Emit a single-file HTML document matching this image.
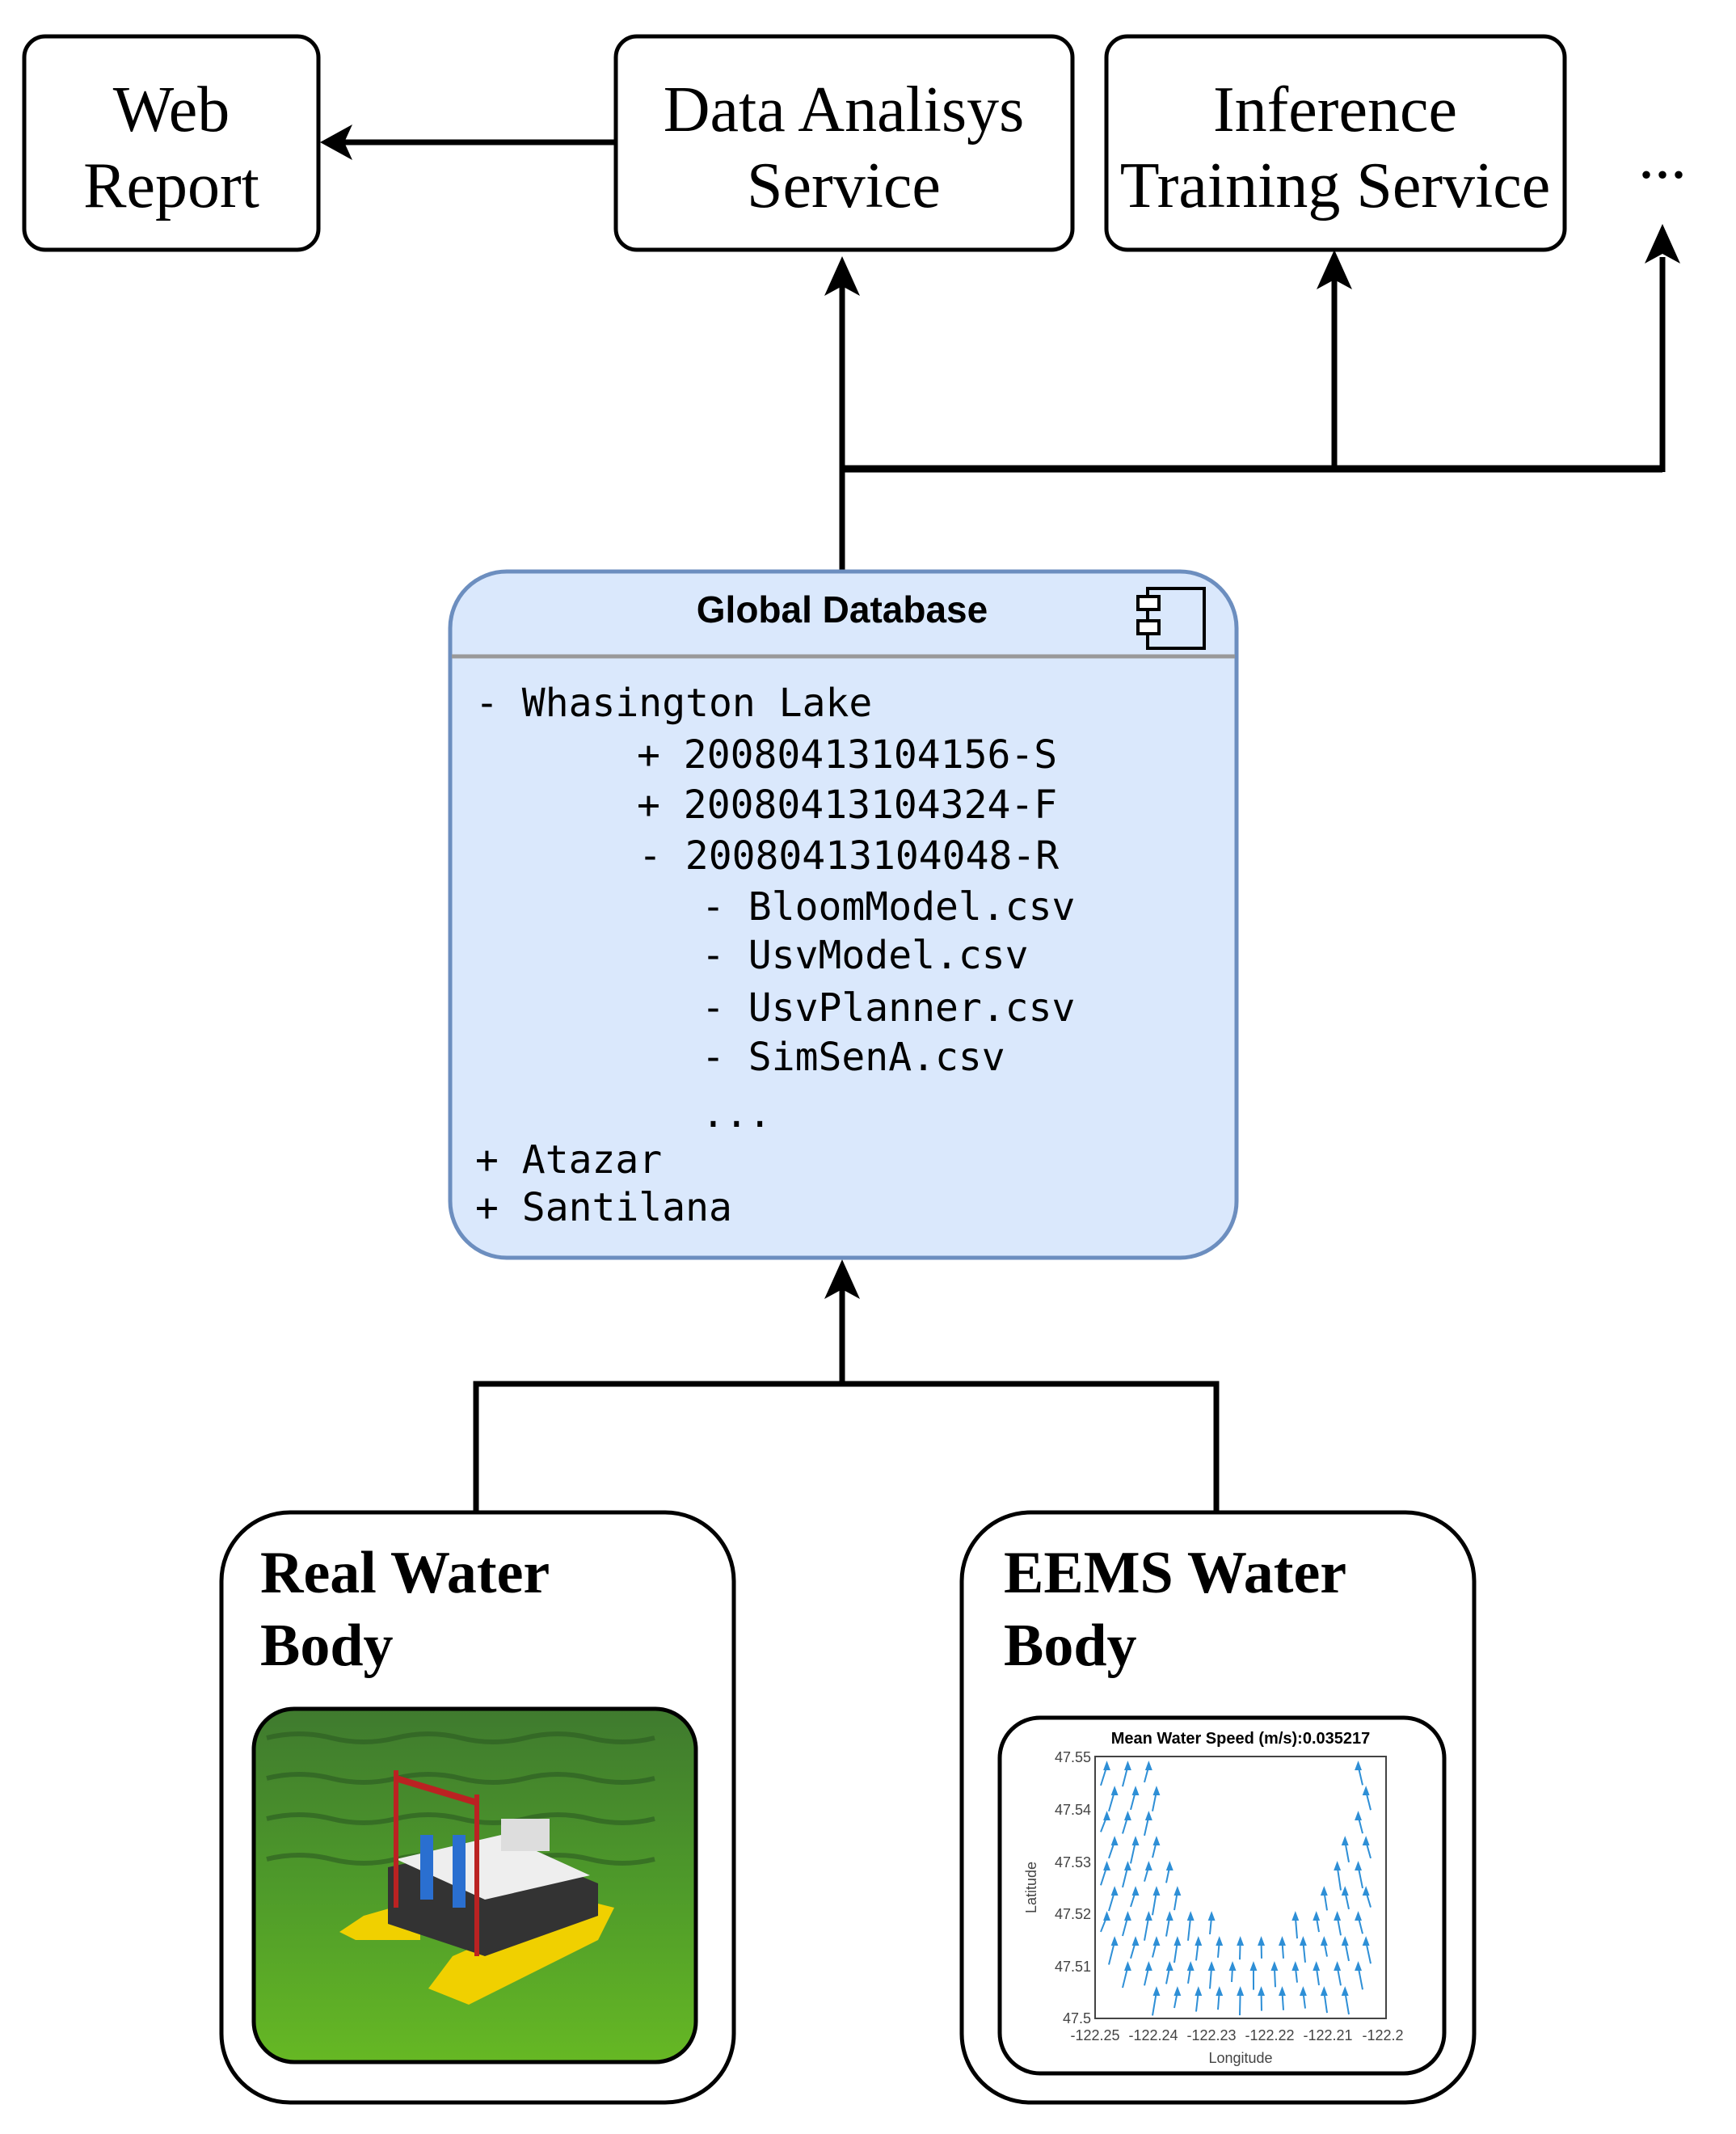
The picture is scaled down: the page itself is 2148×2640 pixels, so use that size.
<!DOCTYPE html>
<html><head><meta charset="utf-8"><style>
html,body{margin:0;padding:0;background:#fff}
svg{display:block}
</style></head><body>
<svg id="s" width="2148" height="2640" viewBox="0 0 2148 2640" xmlns="http://www.w3.org/2000/svg">
<defs>
<linearGradient id="water" x1="0" y1="0" x2="0" y2="1">
<stop offset="0" stop-color="#3f7a2e"/><stop offset="0.5" stop-color="#4e9a2a"/><stop offset="1" stop-color="#66b824"/>
</linearGradient>
<clipPath id="pc"><rect x="314" y="2114" width="547" height="437" rx="50"/></clipPath>
</defs>
<g fill="none" stroke="#000" stroke-width="5">
<rect x="30" y="45" width="364" height="264" rx="26"/>
<rect x="762" y="45" width="565" height="264" rx="26"/>
<rect x="1369" y="45" width="567" height="264" rx="26"/>
</g>
<g font-family="Liberation Serif, serif" font-size="80" text-anchor="middle" fill="#000">
<text x="212" y="162">Web</text><text x="212" y="256">Report</text>
<text x="1044" y="162">Data Analisys</text><text x="1044" y="256">Service</text>
<text x="1652" y="162">Inference</text><text x="1652" y="256">Training Service</text>
<text x="2057" y="220">...</text>
</g>
<g stroke="#000" stroke-width="7" fill="none">
<line x1="762" y1="176" x2="420" y2="176"/>
<line x1="1042" y1="705" x2="1042" y2="350"/>
<line x1="1042" y1="580" x2="2057" y2="580" stroke-width="9"/>
<line x1="1651" y1="580" x2="1651" y2="345"/>
<line x1="2057" y1="584" x2="2057" y2="318"/>
<line x1="1042" y1="1712" x2="1042" y2="1595"/>
<polyline points="589,1871 589,1712 1505,1712 1505,1871"/>
</g>
<g fill="#000">
<polygon points="396,176 436,154 426,176 436,198"/>
<polygon points="1042,317 1020,366 1042,354 1064,366"/>
<polygon points="1651,309 1629,358 1651,346 1673,358"/>
<polygon points="2057,277 2035,326 2057,314 2079,326"/>
<polygon points="1042,1558 1020,1607 1042,1595 1064,1607"/>
</g>
<rect x="557" y="707" width="973" height="849" rx="70" fill="#dae8fc" stroke="#6c8ebf" stroke-width="5"/>
<line x1="559" y1="812" x2="1528" y2="812" stroke="#999" stroke-width="5"/>
<text x="1042" y="770" font-family="Liberation Sans, sans-serif" font-weight="bold" font-size="46" text-anchor="middle">Global Database</text>
<g fill="#fff" stroke="#000" stroke-width="4">
<rect x="1420" y="728" width="70" height="74" fill="none"/>
<rect x="1408" y="738" width="26" height="16"/>
<rect x="1408" y="768" width="26" height="16"/>
</g>
<g font-family="DejaVu Sans Mono, Liberation Mono, monospace" font-size="48" fill="#000" xml:space="preserve">
<text x="588" y="886">- Whasington Lake</text>
<text x="788" y="950">+ 20080413104156-S</text>
<text x="788" y="1012">+ 20080413104324-F</text>
<text x="790" y="1075">- 20080413104048-R</text>
<text x="868" y="1138">- BloomModel.csv</text>
<text x="868" y="1198">- UsvModel.csv</text>
<text x="868" y="1263">- UsvPlanner.csv</text>
<text x="868" y="1324">- SimSenA.csv</text>
<text x="868" y="1394">  ...</text>
<text x="588" y="1451">+ Atazar</text>
<text x="588" y="1510">+ Santilana</text>
</g>
<g fill="none" stroke="#000" stroke-width="5">
<rect x="274" y="1871" width="634" height="730" rx="85"/>
<rect x="1190" y="1871" width="634" height="730" rx="85"/>
</g>
<g font-family="Liberation Serif, serif" font-weight="bold" font-size="74" fill="#000">
<text x="322" y="1970">Real Water</text><text x="322" y="2060">Body</text>
<text x="1242" y="1970">EEMS Water</text><text x="1242" y="2060">Body</text>
</g>
<g clip-path="url(#pc)">
<rect x="314" y="2114" width="547" height="437" fill="url(#water)"/>
<g stroke="#2b5a22" stroke-width="6" opacity="0.6" fill="none">
<path d="M330 2150 q40 -10 80 0 t80 0 t80 0 t80 0 t80 0 t80 0"/>
<path d="M330 2200 q40 -10 80 0 t80 0 t80 0 t80 0 t80 0 t80 0"/>
<path d="M330 2250 q40 -10 80 0 t80 0 t80 0 t80 0 t80 0 t80 0"/>
<path d="M330 2300 q40 -10 80 0 t80 0 t80 0 t80 0 t80 0 t80 0"/>
</g>
<polygon points="530,2460 560,2420 720,2350 760,2360 740,2400 580,2480" fill="#f0d000"/>
<polygon points="420,2390 450,2370 520,2350 520,2400 440,2400" fill="#f0d000"/>
<polygon points="480,2310 620,2280 740,2330 740,2370 600,2420 480,2380" fill="#333"/>
<polygon points="490,2300 620,2270 730,2320 600,2350" fill="#eee"/>
<rect x="620" y="2250" width="60" height="40" fill="#ddd"/>
<line x1="490" y1="2190" x2="490" y2="2360" stroke="#b22" stroke-width="6"/>
<line x1="590" y1="2220" x2="590" y2="2420" stroke="#b22" stroke-width="6"/>
<line x1="490" y1="2200" x2="590" y2="2230" stroke="#b22" stroke-width="8"/>
<rect x="520" y="2270" width="16" height="80" fill="#2a6fd0"/>
<rect x="560" y="2270" width="16" height="90" fill="#2a6fd0"/>
</g>
<rect x="314" y="2114" width="547" height="437" rx="50" fill="none" stroke="#000" stroke-width="5"/>
<rect x="1237" y="2125" width="550" height="440" rx="50" fill="#fff" stroke="#000" stroke-width="5"/>
<rect x="1355" y="2173" width="360" height="324" fill="none" stroke="#444" stroke-width="2"/>
<g id="arr" stroke="#2e8fd6" stroke-width="2" fill="#2e8fd6"></g>
<text x="1535" y="2157" font-family="Liberation Sans, sans-serif" font-weight="bold" font-size="20" text-anchor="middle">Mean Water Speed (m/s):0.035217</text>
<g font-family="Liberation Sans, sans-serif" font-size="18" fill="#444" text-anchor="end">
<text x="1350" y="2180">47.55</text><text x="1350" y="2245">47.54</text><text x="1350" y="2310">47.53</text>
<text x="1350" y="2374">47.52</text><text x="1350" y="2439">47.51</text><text x="1350" y="2503">47.5</text>
</g>
<g font-family="Liberation Sans, sans-serif" font-size="18" fill="#444" text-anchor="middle">
<text x="1355" y="2524">-122.25</text><text x="1427" y="2524">-122.24</text><text x="1499" y="2524">-122.23</text>
<text x="1571" y="2524">-122.22</text><text x="1643" y="2524">-122.21</text><text x="1711" y="2524">-122.2</text>
<text x="1535" y="2552">Longitude</text>
<text transform="translate(1282,2335) rotate(-90)">Latitude</text>
</g>
</svg>
<script>
var g=document.getElementById('arr'),h='';
var seed=7;function rnd(){seed=(seed*9301+49297)%233280;return seed/233280;}
for(var i=0;i<13;i++)for(var j=0;j<10;j++){
 var x=1362+i*27+(j%2)*10, y=2185+j*31;
 var u=(x-1550)/175, v=(y-2180)/280;
 var d=Math.sqrt(u*u+v*v);
 if(d>0.72&&d<1.3){
  var dx=-u*7, len=18+rnd()*12;
  h+='<line x1="'+x+'" y1="'+(y+len)+'" x2="'+(x+dx)+'" y2="'+y+'"/><polygon points="'+(x+dx)+','+(y-4)+' '+(x+dx-3)+','+(y+4)+' '+(x+dx+3)+','+(y+4)+'"/>';
 }}
g.innerHTML=h;
</script>
</body></html>
